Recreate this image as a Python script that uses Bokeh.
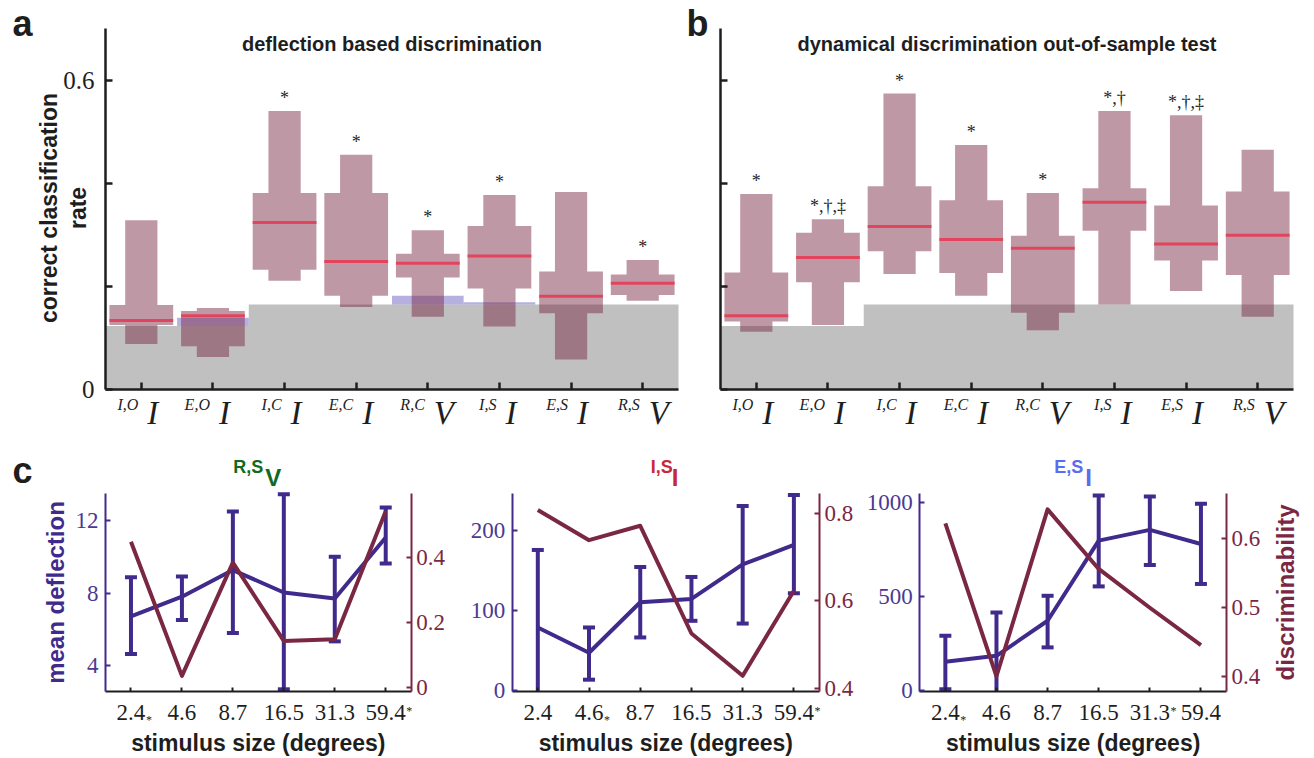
import math
from bokeh.plotting import figure
from bokeh.models import Range1d, LinearAxis, FixedTicker, Label
from bokeh.layouts import column, row
from bokeh.embed import file_html
from bokeh.resources import INLINE
from bokeh.core.properties import value

# ---------------- data: panels a / b ----------------
CAT_SUP = ["I,O", "E,O", "I,C", "E,C", "R,C", "I,S", "E,S", "R,S"]
CAT_BASE = ["I", "I", "I", "I", "V", "I", "I", "V"]

A_OUT_LO = [0.088, 0.063, 0.211, 0.160, 0.141, 0.122, 0.058, 0.172]
A_OUT_HI = [0.328, 0.158, 0.540, 0.455, 0.309, 0.377, 0.383, 0.251]
A_IN_LO = [0.125, 0.084, 0.232, 0.182, 0.217, 0.196, 0.148, 0.183]
A_IN_HI = [0.164, 0.152, 0.381, 0.381, 0.263, 0.317, 0.229, 0.223]
A_MED = [0.134, 0.143, 0.324, 0.248, 0.245, 0.259, 0.181, 0.206]
A_CHANCE = [0.123, 0.123, 0.165, 0.165, 0.165, 0.165, 0.165, 0.165]
A_BAND = [0.123, 0.139, 0.165, 0.165, 0.182, 0.169, 0.165, 0.165]
A_MARK = ["", "", "*", "*", "*", "*", "", "*"]

B_OUT_LO = [0.112, 0.125, 0.224, 0.182, 0.115, 0.165, 0.191, 0.141]
B_OUT_HI = [0.379, 0.330, 0.574, 0.474, 0.381, 0.540, 0.532, 0.465]
B_IN_LO = [0.132, 0.208, 0.268, 0.226, 0.149, 0.308, 0.250, 0.222]
B_IN_HI = [0.227, 0.304, 0.394, 0.367, 0.298, 0.390, 0.357, 0.384]
B_MED = [0.143, 0.256, 0.316, 0.291, 0.274, 0.363, 0.282, 0.299]
B_CHANCE = [0.123, 0.123, 0.165, 0.165, 0.165, 0.165, 0.165, 0.165]
B_BAND = [0.123, 0.123, 0.165, 0.165, 0.165, 0.165, 0.165, 0.165]
B_MARK = ["*", "*,\u2020,\u2021", "*", "*", "*", "*,\u2020", "*,\u2020,\u2021", ""]

# ---------------- data: panel c ----------------
SIZES = ["2.4", "4.6", "8.7", "16.5", "31.3", "59.4"]
C1_STARS = ["sub", "", "", "", "", "sup"]
C2_STARS = ["", "sub", "", "", "", "sup"]
C3_STARS = ["sub", "", "", "", "sup", ""]

C1_MEAN = [6.72, 7.80, 9.26, 8.03, 7.70, 11.05]
C1_HI = [8.86, 8.91, 12.47, 13.42, 9.99, 12.69]
C1_LO = [4.66, 6.52, 5.81, 2.72, 5.35, 9.62]
C1_DISC = [0.447, 0.036, 0.383, 0.143, 0.148, 0.541]

C2_MEAN = [78.7, 47.2, 110.1, 114.3, 157.3, 181.4]
C2_HI = [175.2, 78.7, 154.0, 141.6, 229.8, 243.5]
C2_LO = [-17.0, 13.7, 66.3, 87.0, 83.6, 121.3]
C2_DISC = [0.808, 0.739, 0.772, 0.525, 0.428, 0.623]

C3_MEAN = [151, 183, 370, 797, 854, 779]
C3_HI = [290, 414, 503, 1037, 1032, 993]
C3_LO = [5, -48, 228, 553, 667, 566]
C3_DISC = [0.622, 0.401, 0.642, 0.556, 0.500, 0.446]

C_TITLES = [("R,S", "V", "#0f6b22"), ("I,S", "I", "#c8283a"), ("E,S", "I", "#5a6cf0")]

# ---------------- styles ----------------
SERIF = "Liberation Serif"
SANS = "Liberation Sans"
AXC = "#1e1e1e"
BLUE = "#402a8c"
BLUE_TXT = "#4a3a94"
MAROON = "#7a2744"
BOXC = "#792742"
MEDC = "#e2445c"
GRAY = "#c0c0c0"
BANDC = "#7a70c8"


def hrange(c0, c1, d0, d1, v0, v1):
    """x range so that values v0..v1 occupy canvas pixels d0..d1 of a canvas c0..c1."""
    s = (v1 - v0) / (d1 - d0)
    return Range1d(v0 - (d0 - c0) * s, v1 + (c1 - d1) * s)


def vrange(ctop, cbot, dtop, dbot, v0, v1):
    """y range so that v0 sits at pixel row dbot and v1 at pixel row dtop."""
    s = (v1 - v0) / (dbot - dtop)
    return Range1d(v0 - (cbot - dbot) * s, v1 + (dtop - ctop) * s)


def add_label(p, text, x, y, xo=0, base=0, size=20, font=SANS, style="bold",
              color=AXC, align="left", angle=0.0, mid=None):
    """Label whose text baseline lies `base` px above (x, y); `mid` gives the
    centre offset instead (used for rotated texts)."""
    if mid is None:
        yo = base + 0.34 * size
    else:
        yo = 0
        xo = mid
    p.add_layout(Label(x=x, y=y, x_offset=xo, y_offset=yo, text=text,
                       text_font=font, text_font_size=f"{size}px", text_font_style=style,
                       text_color=color, text_align=align, text_baseline="middle",
                       angle=angle))


def base_fig(width, height, xr, yr):
    p = figure(width=width, height=height, x_range=xr, y_range=yr,
               output_backend="svg", toolbar_location=None, min_border=0)
    p.outline_line_color = None
    p.grid.visible = False
    p.background_fill_color = "white"
    p.border_fill_color = "white"
    return p


# canvas geometry (pixels) of the top row
TOP_H = 435
A_W, B_W = 685, 629


def box_panel(cx0, cx1, dx0, dx1, out_lo, out_hi, in_lo, in_hi, med, chance, band,
              marks, title, letter, letter_xo, show_ylabels):
    ncat = len(out_lo)
    xr = hrange(cx0, cx1, dx0, dx1, 0.5, ncat + 0.5)
    yr = vrange(0, TOP_H, 28, 389, 0.0, 0.7)
    p = base_fig(cx1 - cx0, TOP_H, xr, yr)
    xs = list(range(1, ncat + 1))

    # chance level (gray step area)
    gx, gy = [xs[0] - 0.5], [0.0]
    for x, c in zip(xs, chance):
        gx += [x - 0.5, x + 0.5]
        gy += [c, c]
    gx.append(xs[-1] + 0.5)
    gy.append(0.0)
    p.patch(gx, gy, fill_color=GRAY, line_color=None)

    # blue bands above chance
    p.quad(left=[x - 0.5 for x in xs], right=[x + 0.5 for x in xs], bottom=chance, top=band,
           fill_color=BANDC, fill_alpha=0.55, line_color=None)

    # stepped box shapes
    n, w = 0.225, 0.445
    pxs, pys = [], []
    for x, a, b, c, d in zip(xs, out_lo, in_lo, in_hi, out_hi):
        pxs.append([x - n, x + n, x + n, x + w, x + w, x + n, x + n, x - n, x - n, x - w, x - w, x - n])
        pys.append([a, a, b, b, c, c, d, d, c, c, b, b])
    p.patches(pxs, pys, fill_color=BOXC, fill_alpha=0.48, line_color=None)

    p.segment(x0=[x - w for x in xs], y0=med, x1=[x + w for x in xs], y1=med,
              line_color=MEDC, line_width=3)

    p.text(x=xs, y=[h + 0.025 for h in out_hi], text=marks, text_align="center",
           text_baseline="middle", text_font=value(SERIF), text_font_size="18px",
           text_color="#262626")

    # axes drawn at the edges of the data area
    xa = p.xaxis[0]
    xa.fixed_location = 0.0
    xa.bounds = (0.5, ncat + 0.5)
    xa.ticker = FixedTicker(ticks=[], minor_ticks=xs)
    xa.minor_tick_in = 7
    xa.minor_tick_out = 0
    xa.minor_tick_line_width = 2.5
    xa.minor_tick_line_color = AXC
    xa.axis_line_width = 2.5
    xa.axis_line_color = AXC

    ya = p.yaxis[0]
    ya.fixed_location = 0.5
    ya.bounds = (0.0, 0.7)
    if show_ylabels:
        ya.ticker = FixedTicker(ticks=[0, 0.6], minor_ticks=[0.2, 0.4])
    else:
        ya.ticker = FixedTicker(ticks=[], minor_ticks=[0, 0.2, 0.4, 0.6])
    ya.major_tick_in = 7
    ya.major_tick_out = 0
    ya.minor_tick_in = 7
    ya.minor_tick_out = 0
    ya.major_tick_line_width = 2.5
    ya.minor_tick_line_width = 2.5
    ya.major_tick_line_color = AXC
    ya.minor_tick_line_color = AXC
    ya.axis_line_width = 2.5
    ya.axis_line_color = AXC
    ya.major_label_text_font = SERIF
    ya.major_label_text_font_size = "25px"
    ya.major_label_text_color = AXC
    ya.major_label_standoff = 11

    # category labels: small superscript pair + large italic letter
    for x, sup, big in zip(xs, CAT_SUP, CAT_BASE):
        add_label(p, sup, x, 0, xo=-3, base=-20, size=16, font=SERIF, style="italic",
                  align="right")
        add_label(p, big, x, 0, xo=6, base=-35, size=33, font=SERIF, style="italic",
                  align="left")

    add_label(p, title, (ncat + 1) / 2, 0.7, base=-22, size=20, align="center")
    add_label(p, letter, 0.5, 0.7, xo=letter_xo, base=-7, size=36)
    return p


pa = box_panel(0, A_W, 105, 678, A_OUT_LO, A_OUT_HI, A_IN_LO, A_IN_HI, A_MED, A_CHANCE, A_BAND,
               A_MARK, "deflection based discrimination", "a", -93, True)
add_label(pa, "correct classification", 0.5, 0.352, mid=-57, size=23, align="center",
          angle=math.pi / 2)
add_label(pa, "rate", 0.5, 0.352, mid=-28, size=23, align="center", angle=math.pi / 2)

pb = box_panel(A_W, A_W + B_W, 720, 1293, B_OUT_LO, B_OUT_HI, B_IN_LO, B_IN_HI, B_MED,
               B_CHANCE, B_BAND, B_MARK, "dynamical discrimination out-of-sample test",
               "b", -34, False)

# canvas geometry of the bottom row
BOT_Y0, BOT_Y1 = 435, 758
C_DTOP, C_DBOT = 493, 691


def line_panel(cx0, cx1, dx0, dx1, stars, mean, lo, hi, disc, lrange, lticks, rrange, rticks,
               title):
    npt = len(mean)
    xr = hrange(cx0, cx1, dx0, dx1, 0.5, npt + 0.5)
    yr = vrange(BOT_Y0, BOT_Y1, C_DTOP, C_DBOT, lrange[0], lrange[1])
    p = base_fig(cx1 - cx0, BOT_Y1 - BOT_Y0, xr, yr)
    p.extra_y_ranges = {"r": vrange(BOT_Y0, BOT_Y1, C_DTOP, C_DBOT, rrange[0], rrange[1])}
    xs = list(range(1, npt + 1))
    ylo, yhi = lrange

    # mean deflection with error bars (cut at the axes box)
    p.line(xs, mean, line_color=BLUE, line_width=4, line_join="round")
    p.segment(x0=xs, y0=[max(v, ylo) for v in lo], x1=xs, y1=[min(v, yhi) for v in hi],
              line_color=BLUE, line_width=4)
    cap_x = [x for x, v in zip(xs, lo) if v >= ylo] + [x for x, v in zip(xs, hi) if v <= yhi]
    cap_y = [v for v in lo if v >= ylo] + [v for v in hi if v <= yhi]
    p.scatter(cap_x, cap_y, marker="dash", size=12, line_color=BLUE, line_width=4)

    # discriminability on the right axis
    p.line(xs, disc, line_color=MAROON, line_width=4, line_join="round", y_range_name="r")

    # bottom axis
    xa = p.xaxis[0]
    xa.fixed_location = ylo
    xa.bounds = (0.5, npt + 0.5)
    xa.ticker = FixedTicker(ticks=xs)
    xa.major_label_overrides = {x: t for x, t in zip(xs, SIZES)}
    xa.major_tick_in = 4
    xa.major_tick_out = 0
    xa.minor_tick_line_color = None
    xa.major_tick_line_width = 2
    xa.major_tick_line_color = AXC
    xa.axis_line_width = 2
    xa.axis_line_color = AXC
    xa.major_label_text_font = SERIF
    xa.major_label_text_font_size = "23px"
    xa.major_label_text_color = AXC
    xa.major_label_standoff = 13

    # small asterisks attached to the tick labels
    for x, s, t in zip(xs, stars, SIZES):
        half = 14.4 if len(t) == 3 else 20.1
        if s == "sub":
            add_label(p, "*", x, ylo, xo=half + 0.5, base=-33, size=12, font=SERIF,
                      style="normal", align="left")
        elif s == "sup":
            add_label(p, "*", x, ylo, xo=half + 0.5, base=-24, size=12, font=SERIF,
                      style="normal", align="left")

    # left axis
    ya = p.yaxis[0]
    ya.fixed_location = 0.5
    ya.bounds = lrange
    ya.ticker = FixedTicker(ticks=lticks)
    ya.major_tick_in = 5
    ya.major_tick_out = 0
    ya.minor_tick_line_color = None
    ya.major_tick_line_width = 2
    ya.major_tick_line_color = BLUE
    ya.axis_line_width = 2
    ya.axis_line_color = BLUE
    ya.major_label_text_font = SERIF
    ya.major_label_text_font_size = "23px"
    ya.major_label_text_color = BLUE_TXT
    ya.major_label_standoff = 7

    # right axis
    ra = LinearAxis(y_range_name="r", ticker=FixedTicker(ticks=rticks))
    ra.fixed_location = npt + 0.5
    ra.bounds = rrange
    ra.major_tick_in = 5
    ra.major_tick_out = 0
    ra.minor_tick_line_color = None
    ra.major_tick_line_width = 2
    ra.major_tick_line_color = MAROON
    ra.axis_line_width = 2
    ra.axis_line_color = MAROON
    ra.major_label_text_font = SERIF
    ra.major_label_text_font_size = "23px"
    ra.major_label_text_color = MAROON
    ra.major_label_standoff = 5
    p.add_layout(ra, "right")

    add_label(p, "stimulus size (degrees)", (npt + 1) / 2, ylo, base=-59, size=23,
              align="center")

    sup, big, col, xo1, xo2 = title
    add_label(p, sup, (npt + 1) / 2, yhi, xo=xo1, base=20, size=18, color=col, align="right")
    add_label(p, big, (npt + 1) / 2, yhi, xo=xo2, base=8, size=24, color=col, align="left")
    return p


pc1 = line_panel(0, 455, 105, 410.7, C1_STARS, C1_MEAN, C1_LO, C1_HI, C1_DISC,
                 (2.6, 13.46), [4, 8, 12], (-0.012, 0.595), [0, 0.2, 0.4],
                 C_TITLES[0] + (5, 7))
add_label(pc1, "c", 0.5, 13.46, xo=-93, base=11, size=36)
add_label(pc1, "mean deflection", 0.5, (2.6 + 13.46) / 2, mid=-50, size=24, color=BLUE,
          align="center", angle=math.pi / 2)

pc2 = line_panel(455, 865, 511.7, 819, C2_STARS, C2_MEAN, C2_LO, C2_HI, C2_DISC,
                 (-1, 245.5), [0, 100, 200], (0.392, 0.846), [0.4, 0.6, 0.8],
                 C_TITLES[1] + (7, 6))

pc3 = line_panel(865, 1314, 919.3, 1226, C3_STARS, C3_MEAN, C3_LO, C3_HI, C3_DISC,
                 (-7, 1048), [0, 500, 1000], (0.379, 0.665), [0.4, 0.5, 0.6],
                 C_TITLES[2] + (10, 12))
add_label(pc3, "discriminability", 6.5, (-7 + 1048) / 2, mid=59, size=24, color=MAROON,
          align="center", angle=math.pi / 2)

layout = column(row(pa, pb), row(pc1, pc2, pc3))
open("out.html", "w").write(file_html(layout, INLINE))
